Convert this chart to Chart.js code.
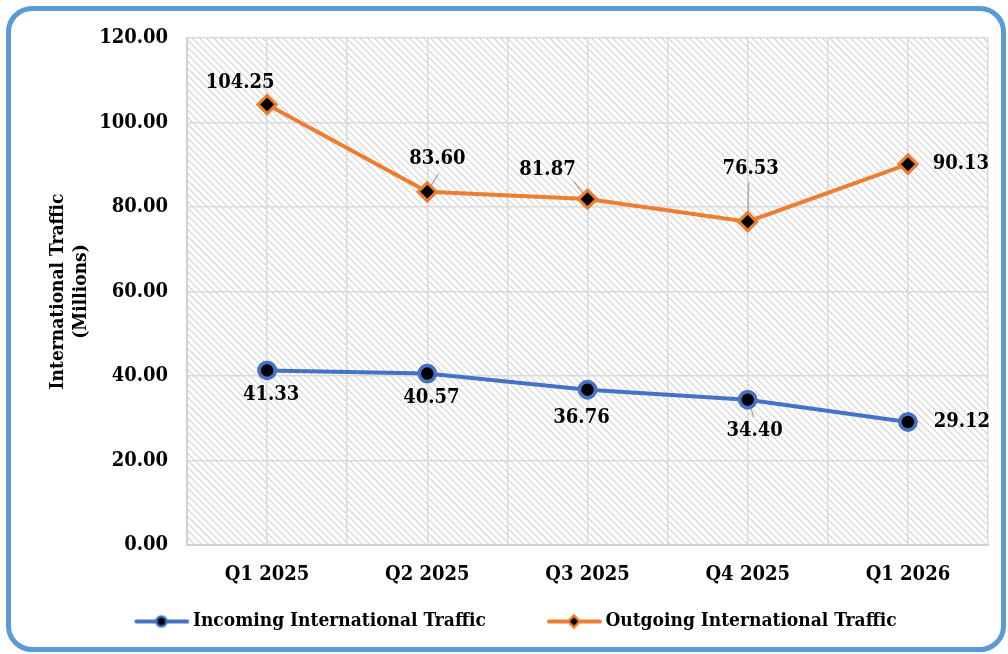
<!DOCTYPE html>
<html>
<head>
<meta charset="utf-8">
<script src="https://cdn.jsdelivr.net/npm/chart.js@4/dist/chart.umd.min.js"></script>
<style>
  html, body { margin: 0; padding: 0; background: #ffffff; }
  #wrap { position: relative; width: 1008px; height: 654px; overflow: hidden; }
  #frame { position: absolute; left: 6px; top: 6px; width: 1000px; height: 646px; box-sizing: border-box;
           border: 5px solid #5B9BD5; border-radius: 26px; pointer-events: none; }
  canvas { position: absolute; left: 0; top: 0; }
</style>
</head>
<body>
<div id="wrap">
  <canvas id="c" width="1008" height="654"></canvas>
  <div id="frame"></div>
</div>
<script>
// Quarterly international traffic, in millions
const quarters = ['Q1 2025', 'Q2 2025', 'Q3 2025', 'Q4 2025', 'Q1 2026'];
const incoming = [41.33, 40.57, 36.76, 34.40, 29.12];
const outgoing = [104.25, 83.60, 81.87, 76.53, 90.13];
const yMin = 0, yMax = 120, yStep = 20;
const seriesNames = ['Incoming International Traffic', 'Outgoing International Traffic'];

const BLUE = '#4472C4';
const ORANGE = '#ED7D31';
const FONT = "'DejaVu Serif Condensed', 'DejaVu Serif', serif";

// Value label placement: centre offset from the point, and optional leader-line start (relative to label centre)
const labelStyle = [
  { off: [[4, 24], [4, 24], [-6, 28], [7, 31], [54, 0]],
    lead: [null, null, null, [-1, -14], null] },
  { off: [[-27, -22], [10, -33], [-40, -29], [3, -53], [53, 0]],
    lead: [null, [1, 15], [26, 11], [-2, 14], null] }
];

// Diagonal hatch used as the plot-area fill
function makeHatch() {
  const n = 7;
  const t = document.createElement('canvas');
  t.width = n; t.height = n;
  const g = t.getContext('2d');
  const img = g.createImageData(n, n);
  for (let y = 0; y < n; y++) {
    for (let x = 0; x < n; x++) {
      const d = (((x - y) % n) + n) % n;
      const v = d === 0 ? 212 : (d === 1 ? 232 : 255);
      const i = (y * n + x) * 4;
      img.data[i] = v; img.data[i + 1] = v; img.data[i + 2] = v; img.data[i + 3] = 255;
    }
  }
  g.putImageData(img, 0, 0);
  return t;
}
const hatchTile = makeHatch();

const hatchPlugin = {
  id: 'hatch',
  beforeDraw(chart) {
    const { ctx, chartArea: a } = chart;
    ctx.save();
    ctx.fillStyle = ctx.createPattern(hatchTile, 'repeat');
    ctx.fillRect(a.left, a.top, a.right - a.left, a.bottom - a.top);
    ctx.restore();
  }
};

const valueLabels = {
  id: 'valueLabels',
  afterDatasetsDraw(chart) {
    const ctx = chart.ctx;
    ctx.save();
    chart.data.datasets.forEach((ds, di) => {
      const meta = chart.getDatasetMeta(di);
      const st = labelStyle[di];
      meta.data.forEach((pt, i) => {
        const cx = pt.x + st.off[i][0];
        const cy = pt.y + st.off[i][1];
        const lead = st.lead[i];
        if (lead) {
          ctx.strokeStyle = '#a6a6a6';
          ctx.lineWidth = 1.3;
          ctx.beginPath();
          ctx.moveTo(cx + lead[0], cy + lead[1]);
          ctx.lineTo(pt.x, pt.y);
          ctx.stroke();
        }
      });
    });
    // redraw markers over the leader lines
    chart.data.datasets.forEach((ds, di) => {
      chart.getDatasetMeta(di).data.forEach(pt => pt.draw(ctx, chart.chartArea));
    });
    ctx.font = 'bold 20px ' + FONT;
    ctx.fillStyle = '#000000';
    ctx.textAlign = 'center';
    ctx.textBaseline = 'middle';
    chart.data.datasets.forEach((ds, di) => {
      const meta = chart.getDatasetMeta(di);
      const st = labelStyle[di];
      meta.data.forEach((pt, i) => {
        ctx.fillText(ds.data[i].toFixed(2), pt.x + st.off[i][0], pt.y + st.off[i][1]);
      });
    });
    ctx.restore();
  }
};

// Legend swatch: line with the series marker, sitting at the right end of the legend box
function legendSwatch(color, shape) {
  const w = 112, h = 20;
  const c = document.createElement('canvas');
  c.width = w; c.height = h;
  const g = c.getContext('2d');
  const x0 = 57, x1 = 112, mx = 84, my = h / 2;
  g.strokeStyle = color; g.lineWidth = 4; g.lineCap = 'round';
  g.beginPath(); g.moveTo(x0 + 2, my); g.lineTo(x1 - 2, my); g.stroke();
  g.fillStyle = '#000'; g.lineWidth = 2.5;
  g.beginPath();
  if (shape === 'circle') {
    g.arc(mx, my, 5, 0, Math.PI * 2);
  } else {
    g.moveTo(mx - 6, my); g.lineTo(mx, my - 6); g.lineTo(mx + 6, my); g.lineTo(mx, my + 6); g.closePath();
  }
  g.fill(); g.stroke();
  return c;
}
const swatches = [legendSwatch(BLUE, 'circle'), legendSwatch(ORANGE, 'diamond')];

new Chart(document.getElementById('c'), {
  type: 'line',
  data: {
    labels: quarters,
    datasets: [
      { label: seriesNames[0], data: incoming, borderColor: BLUE, borderWidth: 4,
        pointStyle: 'circle', pointRadius: 8, pointBorderWidth: 3.5,
        pointBackgroundColor: '#000000', pointBorderColor: BLUE, tension: 0 },
      { label: seriesNames[1], data: outgoing, borderColor: ORANGE, borderWidth: 4,
        pointStyle: 'rectRot', pointRadius: 9, pointBorderWidth: 3,
        pointBackgroundColor: '#000000', pointBorderColor: ORANGE, tension: 0 }
    ]
  },
  options: {
    responsive: false,
    animation: false,
    layout: { padding: { top: 38, right: 20, left: -8, bottom: 13 } },
    scales: {
      x: {
        type: 'category',
        offset: true,
        grid: { display: false },
        border: { display: true, color: '#d0d0d0', width: 2 },
        ticks: { color: '#000', padding: 10, font: { family: FONT, size: 20, weight: 'bold' } },
        afterFit(s) { s.height = 57; }
      },
      xg: {
        type: 'linear',
        position: 'top',
        min: -0.5, max: 4.5,
        grid: { color: '#dadada', lineWidth: 1.5, drawTicks: false },
        border: { display: false },
        ticks: { display: false, stepSize: 0.5 },
        afterFit(s) { s.height = 0; }
      },
      y: {
        min: yMin, max: yMax,
        grid: { color: '#dadada', lineWidth: 1.5, drawTicks: false },
        border: { display: true, color: '#d0d0d0', width: 2 },
        ticks: { stepSize: yStep, color: '#000', padding: 19,
                 font: { family: FONT, size: 20, weight: 'bold' },
                 callback: v => Number(v).toFixed(2) },
        title: { display: true, text: ['International Traffic', '(Millions)'], color: '#000',
                 font: { family: FONT, size: 19, weight: 'bold' }, padding: { top: 55, bottom: 0 } },
        afterFit(s) { s.width = 195; }
      }
    },
    plugins: {
      tooltip: { enabled: false },
      legend: {
        position: 'bottom',
        labels: {
          usePointStyle: true,
          pointStyleWidth: 100,
          padding: 10,
          color: '#000',
          font: { family: FONT, size: 19, weight: 'bold' },
          generateLabels(chart) {
            return chart.data.datasets.map((ds, i) => ({
              text: ds.label, pointStyle: swatches[i], datasetIndex: i,
              fillStyle: ds.borderColor, strokeStyle: ds.borderColor, lineWidth: 0, hidden: false
            }));
          }
        }
      }
    }
  },
  plugins: [hatchPlugin, valueLabels]
});
</script>
</body>
</html>
